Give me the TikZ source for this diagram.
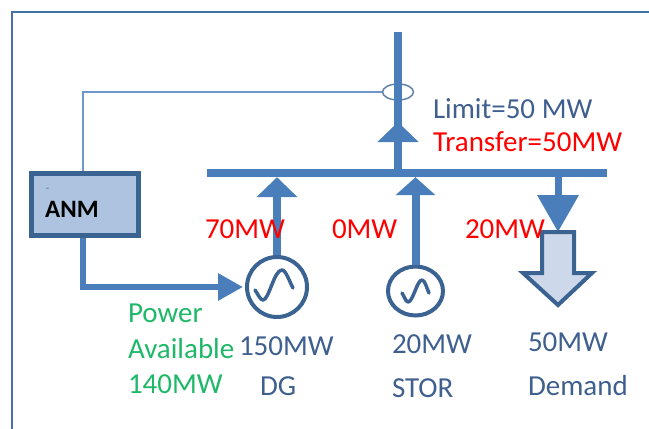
\documentclass[tikz,border=0pt]{standalone}
\usepackage{fontspec}
\setmainfont{Carlito}
\usetikzlibrary{arrows.meta,shapes.geometric}
\definecolor{linkblue}{HTML}{4A7EBB}
\definecolor{darkblue}{HTML}{3B6392}
\definecolor{textblue}{HTML}{3F5F8F}
\definecolor{boxfill}{HTML}{ADC3E0}
\definecolor{loadfill}{HTML}{CDD9EA}
\definecolor{greentext}{HTML}{1FB868}
\tikzset{
  lbl/.style={font=\fontsize{29}{29}\selectfont,anchor=base west,inner sep=0pt,outer sep=0pt},
  bluelbl/.style={lbl,text=textblue},
  redlbl/.style={lbl,text=red},
  greenlbl/.style={lbl,text=greentext},
  feeder/.style={draw=linkblue,line width=8pt},
  feedtip/.style={feeder,-{Triangle[length=20pt,width=40pt]}},
  gen/.style={draw=darkblue,line width=4pt,fill=white,inner sep=0pt},
  wave/.style={draw=darkblue,line width=3.5pt,line cap=round,line join=round}
}
\begin{document}
\begin{tikzpicture}[x=1pt,y=-1pt]
\useasboundingbox (0,0) rectangle (649,429);
% frame
\coordinate (fbl) at (12,429);
\coordinate (ftl) at (12,12);
\coordinate (ftr) at (649,12);
\draw[draw=linkblue!90!black,line width=1.6pt] (fbl) -- (ftl) -- (ftr);
% bus
\node[fill=linkblue,minimum width=400pt,minimum height=8pt,inner sep=0pt] (bus) at (407,173) {};
% sensor and line above the bus
\node[draw=darkblue!80,line width=1.5pt,ellipse,minimum width=31pt,minimum height=16pt,inner sep=0pt] (sensor) at (398,92) {};
\coordinate (linetop) at (398,32);
\coordinate (midtip) at (398,122);
\draw[feeder] (linetop) -- (398,173);
\draw[feedtip] (398,173) -- (midtip);
% generators
\node[gen,circle,minimum size=60pt] (dg) at (277,287) {};
\node[gen,ellipse,minimum width=55pt,minimum height=49pt] (stor) at (415.5,291) {};
\draw[feedtip] (dg.north) -- (dg.north |- bus.south);
\draw[feeder,-{Triangle[length=18pt,width=39pt]}] (stor.north) -- (stor.north |- bus.south);
\draw[wave] (255,290) .. controls (258,294) and (260,300) .. (263,300) .. controls (269,300) and (274,270) .. (282,270) .. controls (286,270) and (290,283) .. (293,288);
\draw[wave] (402,293) .. controls (404,296) and (406,302) .. (408,302) .. controls (413,302) and (417,280) .. (422,280) .. controls (425,280) and (427,289) .. (429,293);
% demand
\coordinate (loadtop) at (558,232);
\draw[feeder,line width=7pt,-{Triangle[length=37pt,width=40pt]}] (558,177) -- (loadtop);
\draw[draw=darkblue,line width=4pt,fill=loadfill,line join=miter] (542,232) -- (574,232) -- (574,273) -- (592,273) -- (558,305) -- (523,273) -- (542,273) -- cycle;
% ANM
\node[draw=darkblue,line width=5pt,fill=boxfill,minimum width=107pt,minimum height=62pt,inner sep=0pt] (anm) at (84.5,204.5) {};
\node[font=\fontsize{25}{25}\selectfont\bfseries,anchor=base west,inner sep=0pt] (anmlbl) at (45,217) {ANM};
\node[font=\fontsize{10}{10}\selectfont,text=darkblue,anchor=base west,inner sep=0pt] (dash) at (46,191) {-};
\coordinate (anmtop) at (83,171);
\coordinate (corner) at (83,92);
\draw[draw=linkblue!80,line width=1.8pt] (anmtop) -- (corner) -- (sensor.west);
\coordinate (anmbot) at (83,238);
\coordinate (bend) at (83,287);
\draw[draw=linkblue,line width=6pt,line join=miter,-{Triangle[length=25pt,width=26pt]}] (anmbot) -- (bend) -- ([xshift=-2pt]dg.west);
% labels
\node[bluelbl] (limit) at (433,118) {Limit=50 MW};
\node[redlbl] (transfer) at (433,151) {Transfer=50MW};
\node[redlbl] (f1) at (205,238) {70MW};
\node[redlbl] (f2) at (332,238) {0MW};
\node[redlbl] (f3) at (465,238) {20MW};
\node[greenlbl] (p1) at (128,322) {Power};
\node[greenlbl] (p2) at (128,358) {Available};
\node[greenlbl] (p3) at (128,393) {140MW};
\node[bluelbl] (c1) at (239,355) {150MW};
\node[bluelbl] (n1) at (260,395) {DG};
\node[bluelbl] (c2) at (392,353) {20MW};
\node[bluelbl] (n2) at (392,397) {STOR};
\node[bluelbl] (c3) at (528,351) {50MW};
\node[bluelbl] (n3) at (528,395) {Demand};
\end{tikzpicture}
\end{document}
